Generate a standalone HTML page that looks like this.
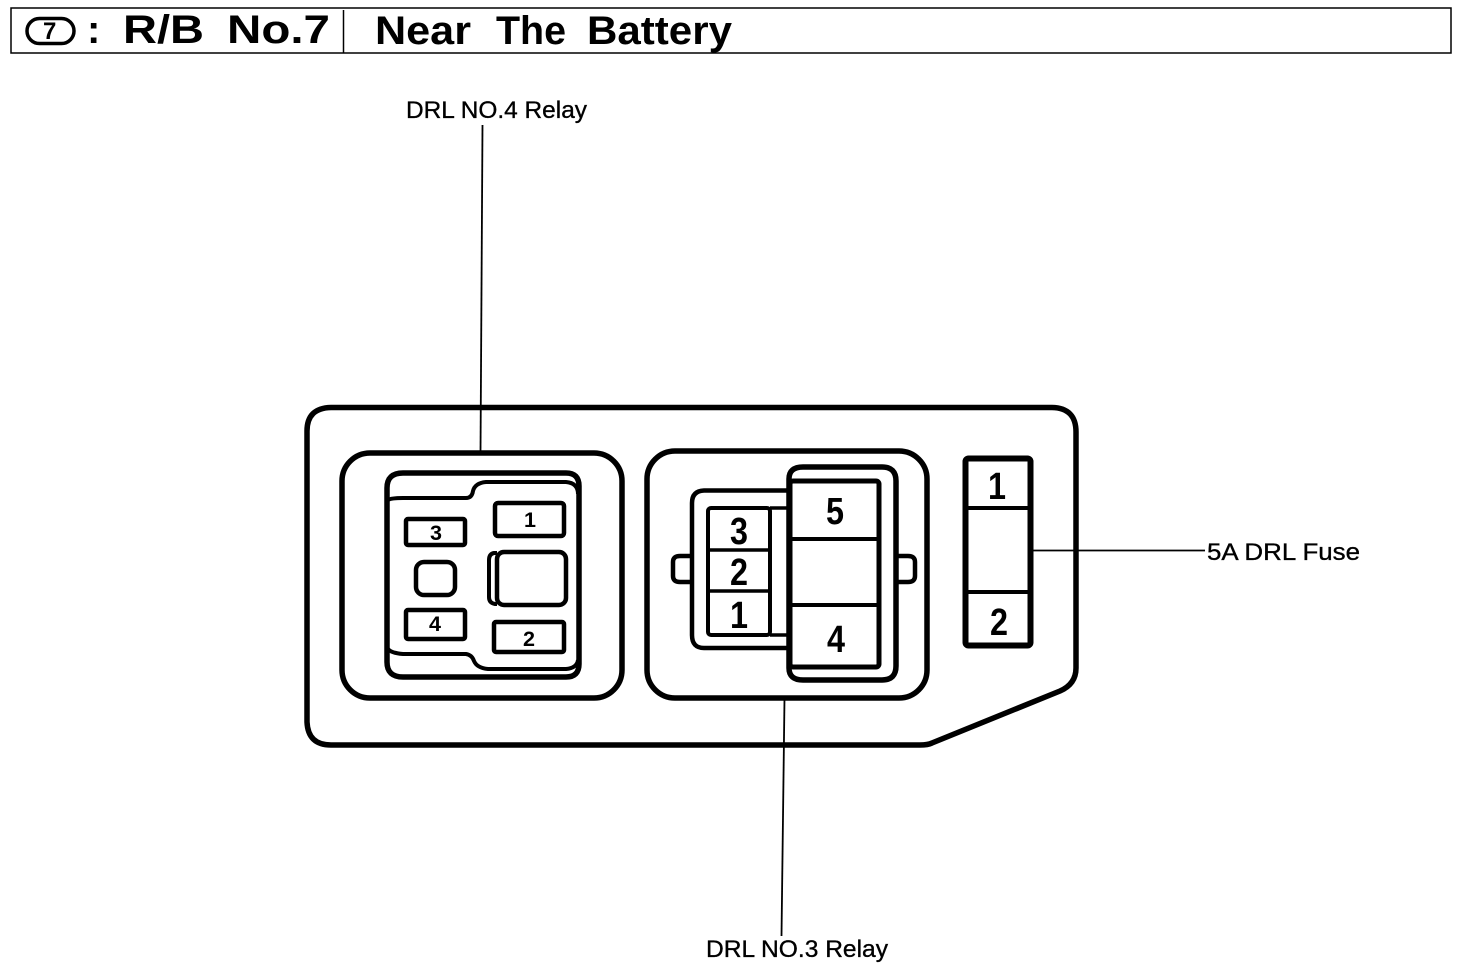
<!DOCTYPE html>
<html>
<head>
<meta charset="utf-8">
<style>
html,body{margin:0;padding:0;background:#fff;width:1472px;height:968px;overflow:hidden}
svg{display:block}
text{font-family:"Liberation Sans",sans-serif;fill:#000}
.b{font-weight:bold}
.t{font-weight:bold;font-size:40px}
.l{font-size:24px;stroke:#000;stroke-width:.35px}
.s{font-weight:bold;font-size:21px}
.m{font-weight:bold;font-size:38px}
</style>
</head>
<body>
<svg width="1472" height="968" viewBox="0 0 1472 968" xmlns="http://www.w3.org/2000/svg">
<g fill="none" stroke="#000">
  <!-- header -->
  <rect x="11" y="8" width="1440" height="45" stroke-width="1.5"/>
  <line x1="343.500" y1="10" x2="343.500" y2="53" stroke-width="1.500"/>
  <rect x="27" y="18.500" width="47" height="25" rx="12.500" stroke-width="3.500"/>

  <!-- leader lines -->
  <line x1="482.500" y1="125" x2="480.500" y2="453" stroke-width="1.800"/>
  <line x1="784.500" y1="698" x2="781.500" y2="936" stroke-width="1.800"/>
  <line x1="1031" y1="550.500" x2="1205" y2="550.500" stroke-width="1.800"/>

  <!-- outer housing -->
  <path d="M331 407.500 H1052 Q1076 408 1076 432 L1076 668 Q1076 684 1060 691 L932 743 Q928 745 920 745 L331 745 Q308 745 307 722 L307 431 Q307 408 331 407.500 Z" stroke-width="5.500"/>

  <!-- left relay socket -->
  <rect x="342" y="453" width="280" height="245" rx="28" stroke-width="5.500"/>
  <path d="M403 473 H566 Q579 473 579 486 V664 Q579 677 566 677 H403 Q387 677 387 662 V488 Q387 473 403 473 Z" stroke-width="5.500"/>
  <path d="M388 500 Q391 498 403 498 H466 Q472 498 473 491 Q475 483 486 482 H566 Q578 483 578 494" stroke-width="4"/>
  <path d="M388 649 Q391 653 403 654 H466 Q472 655 474 661 Q477 668 488 669 H566 Q577 668 578 660" stroke-width="4"/>
  <rect x="406" y="519" width="59" height="26" rx="2" stroke-width="4.500"/>
  <rect x="495" y="503" width="69" height="33" rx="3" stroke-width="4.500"/>
  <rect x="497" y="552" width="69" height="53" rx="7" stroke-width="4.500"/>
  <path d="M497 553 H494 Q489 554 489 560 V597 Q489 603 495 604 H497" stroke-width="4"/>
  <rect x="416" y="562" width="39" height="33" rx="8" stroke-width="4.500"/>
  <rect x="406" y="610" width="59" height="29" rx="2" stroke-width="4.500"/>
  <rect x="494" y="622" width="70" height="30" rx="2" stroke-width="4.500"/>

  <!-- right relay socket -->
  <rect x="647" y="451" width="280" height="247" rx="28" stroke-width="5.500"/>
  <path d="M789 490.500 H704 Q692 491 692 503 V635 Q692 648 704 648 H789" stroke-width="4.500"/>
  <path d="M692 556 H680 Q673 556 673 562 V576 Q673 582 680 582 H692" stroke-width="4.500"/>
  <path d="M896 556 H908 Q915 556 915 562 V576 Q915 582 908 582 H896" stroke-width="4.500"/>
  <rect x="708" y="508" width="62" height="127" rx="3" stroke-width="4"/>
  <line x1="708" y1="550" x2="770" y2="550" stroke-width="3.500"/>
  <line x1="708" y1="591" x2="770" y2="591" stroke-width="3.500"/>
  <path d="M770 508 H789 M770 635 H789" stroke-width="3.500"/>
  <path d="M803 467 H882 Q896 467 896 481 V666 Q896 680 882 680 H803 Q789 680 789 668 V479 Q789 467 803 467 Z" fill="#fff" stroke-width="5.500"/>
  <rect x="790" y="481" width="89" height="186" rx="3" stroke-width="5"/>
  <line x1="790" y1="539" x2="879" y2="539" stroke-width="4"/>
  <line x1="790" y1="605" x2="879" y2="605" stroke-width="4"/>

  <!-- fuse -->
  <rect x="965.500" y="458.500" width="65" height="187" rx="3" stroke-width="6"/>
  <line x1="966" y1="508" x2="1029" y2="508" stroke-width="4"/>
  <line x1="966" y1="592" x2="1029" y2="592" stroke-width="4"/>
</g>

<!-- header text -->
<text x="43" y="39" class="b" font-size="24">7</text>
<text x="87" y="43" class="t">:</text>
<text x="123" y="43" class="t" textLength="81" lengthAdjust="spacingAndGlyphs">R/B</text>
<text x="227" y="43" class="t" textLength="103" lengthAdjust="spacingAndGlyphs">No.7</text>
<text x="375" y="44" class="t" textLength="96" lengthAdjust="spacingAndGlyphs">Near</text>
<text x="496" y="44" class="t" textLength="70" lengthAdjust="spacingAndGlyphs">The</text>
<text x="587" y="44" class="t" textLength="145" lengthAdjust="spacingAndGlyphs">Battery</text>

<!-- labels -->
<text x="406" y="118" class="l" textLength="181" lengthAdjust="spacingAndGlyphs">DRL NO.4 Relay</text>
<text x="706" y="957" class="l" textLength="182" lengthAdjust="spacingAndGlyphs">DRL NO.3 Relay</text>
<text x="1207" y="560" class="l" textLength="153" lengthAdjust="spacingAndGlyphs">5A DRL Fuse</text>

<!-- left relay numbers -->
<text x="430" y="540" class="s" textLength="12" lengthAdjust="spacingAndGlyphs">3</text>
<text x="524" y="527" class="s" textLength="12" lengthAdjust="spacingAndGlyphs">1</text>
<text x="429" y="631" class="s" textLength="12" lengthAdjust="spacingAndGlyphs">4</text>
<text x="523" y="646" class="s" textLength="12" lengthAdjust="spacingAndGlyphs">2</text>

<!-- right relay numbers -->
<text x="730" y="544" class="m" textLength="18" lengthAdjust="spacingAndGlyphs">3</text>
<text x="730" y="585" class="m" textLength="18" lengthAdjust="spacingAndGlyphs">2</text>
<text x="730" y="628" class="m" textLength="18" lengthAdjust="spacingAndGlyphs">1</text>
<text x="826" y="524" class="m" textLength="18" lengthAdjust="spacingAndGlyphs">5</text>
<text x="827" y="652" class="m" textLength="18" lengthAdjust="spacingAndGlyphs">4</text>

<!-- fuse numbers -->
<text x="988" y="499" class="m" textLength="18" lengthAdjust="spacingAndGlyphs">1</text>
<text x="990" y="635" class="m" textLength="18" lengthAdjust="spacingAndGlyphs">2</text>
</svg>
</body>
</html>
